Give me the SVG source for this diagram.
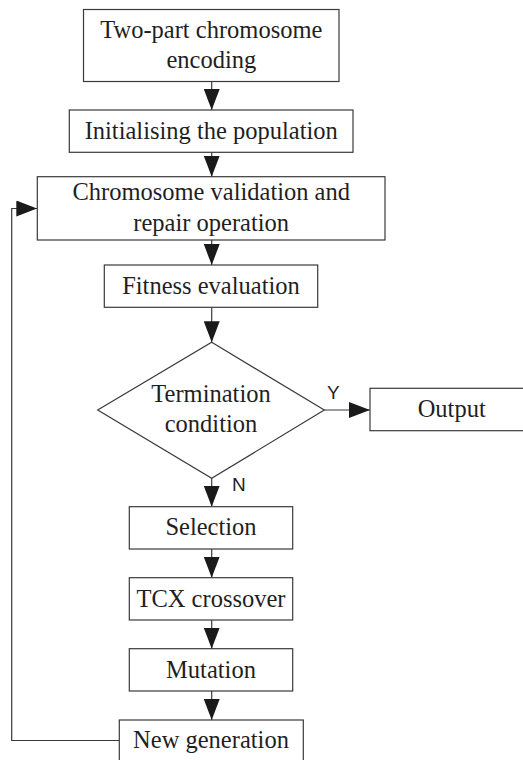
<svg xmlns="http://www.w3.org/2000/svg" width="523" height="760" viewBox="0 0 523 760">
  <defs>
    <style>
      .box { fill: #ffffff; stroke: #3a3a3a; stroke-width: 1.2; }
      .lbl { font-family: "Liberation Serif", "Times New Roman", serif; font-size: 24.5px; fill: #1f1f1f; text-anchor: middle; }
      .yn { font-family: "Liberation Sans", Arial, sans-serif; font-size: 19px; fill: #1f1f1f; }
      .wire { fill: none; stroke: #3a3a3a; stroke-width: 1.2; }
    </style>
    <marker id="arrow" viewBox="0 0 21 16" refX="21" refY="8" markerWidth="21" markerHeight="16" markerUnits="userSpaceOnUse" orient="auto">
      <path d="M0,0 L21,8 L0,16 Z" fill="#1a1a1a"/>
    </marker>
  </defs>
  <rect width="523" height="760" fill="#ffffff"/>

  <!-- connectors -->
  <g id="connectors">
    <line class="wire" x1="211.7" y1="81.7" x2="211.7" y2="110" marker-end="url(#arrow)"/>
    <line class="wire" x1="211.7" y1="152.3" x2="211.7" y2="176.7" marker-end="url(#arrow)"/>
    <line class="wire" x1="211.7" y1="240" x2="211.7" y2="265" marker-end="url(#arrow)"/>
    <line class="wire" x1="211.7" y1="307.3" x2="211.7" y2="342.3" marker-end="url(#arrow)"/>
    <line class="wire" x1="324.3" y1="410" x2="370" y2="410" marker-end="url(#arrow)"/>
    <line class="wire" x1="211.7" y1="478.3" x2="211.7" y2="506.7" marker-end="url(#arrow)"/>
    <line class="wire" x1="211.7" y1="549" x2="211.7" y2="577.7" marker-end="url(#arrow)"/>
    <line class="wire" x1="211.7" y1="620" x2="211.7" y2="648.7" marker-end="url(#arrow)"/>
    <line class="wire" x1="211.7" y1="691" x2="211.7" y2="720" marker-end="url(#arrow)"/>
    <polyline class="wire" points="119.3,740.5 11.7,740.5 11.7,208.5 37.3,208.5" marker-end="url(#arrow)"/>
    <text class="yn" x="327" y="398.5">Y</text>
    <text class="yn" x="232" y="491">N</text>
  </g>

  <g id="encoding">
    <rect class="box" x="83.5" y="9.5" width="255.5" height="72"/>
    <text class="lbl" x="211.3" y="37.5">Two-part chromosome</text>
    <text class="lbl" x="211.3" y="68">encoding</text>
  </g>

  <g id="init">
    <rect class="box" x="69.3" y="110" width="283.7" height="42.3"/>
    <text class="lbl" x="211.2" y="138.5">Initialising the population</text>
  </g>

  <g id="repair">
    <rect class="box" x="37.3" y="176.7" width="347.7" height="63.3"/>
    <text class="lbl" x="211.2" y="199.5">Chromosome validation and</text>
    <text class="lbl" x="211.2" y="231">repair operation</text>
  </g>

  <g id="fitness">
    <rect class="box" x="104.3" y="265" width="213.4" height="42.3"/>
    <text class="lbl" x="211" y="294">Fitness evaluation</text>
  </g>

  <g id="termination">
    <polygon class="box" points="211.7,342.3 324.3,410 211.7,478.3 97.7,410"/>
    <text class="lbl" x="211" y="401.7">Termination</text>
    <text class="lbl" x="211" y="431.7">condition</text>
  </g>

  <g id="output">
    <rect class="box" x="370" y="388.3" width="160" height="42.4"/>
    <text class="lbl" x="451.7" y="416.7">Output</text>
  </g>

  <g id="selection">
    <rect class="box" x="129.3" y="506.7" width="163.4" height="42.3"/>
    <text class="lbl" x="211" y="535">Selection</text>
  </g>

  <g id="crossover">
    <rect class="box" x="129.3" y="577.7" width="163.4" height="42.3"/>
    <text class="lbl" x="211" y="606.7">TCX crossover</text>
  </g>

  <g id="mutation">
    <rect class="box" x="129.3" y="648.7" width="163.4" height="42.3"/>
    <text class="lbl" x="211" y="678.3">Mutation</text>
  </g>

  <g id="newgen">
    <rect class="box" x="119.3" y="720" width="184" height="50"/>
    <text class="lbl" x="211" y="748.3">New generation</text>
  </g>
</svg>
